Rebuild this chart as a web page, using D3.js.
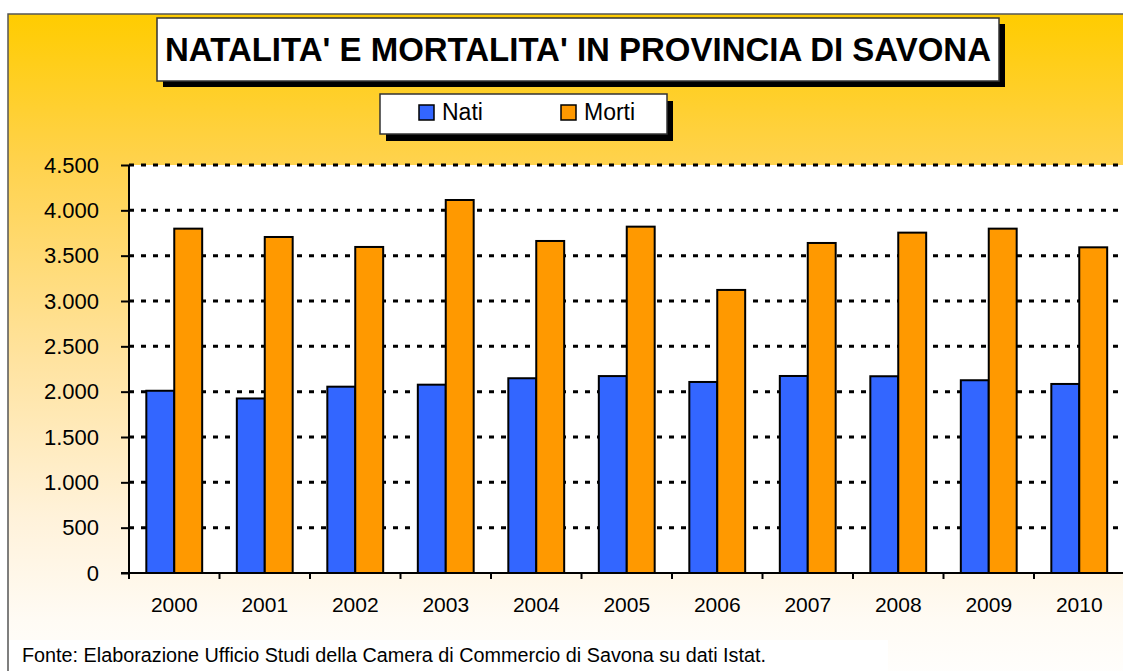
<!DOCTYPE html>
<html>
<head>
<meta charset="utf-8">
<script src="https://cdn.jsdelivr.net/npm/d3@7"></script>
<style>
  body { margin: 0; background: #fff; }
  svg { display: block; font-family: "Liberation Sans", Arial, sans-serif; }
</style>
</head>
<body>
<div id="chart"></div>
<script>
// data
var years = ["2000", "2001", "2002", "2003", "2004", "2005", "2006", "2007", "2008", "2009", "2010"];
var nati  = [2010, 1925, 2055, 2077, 2148, 2172, 2107, 2173, 2170, 2126, 2085];
var morti = [3798, 3706, 3596, 4114, 3662, 3820, 3122, 3640, 3754, 3798, 3592];
var seriesNames = ["Nati", "Morti"];
var seriesColors = ["#3366FF", "#FF9900"];
var yTicks = [0, 500, 1000, 1500, 2000, 2500, 3000, 3500, 4000, 4500];
var title = "NATALITA' E MORTALITA' IN PROVINCIA DI SAVONA";
var footer = "Fonte: Elaborazione Ufficio Studi della Camera di Commercio di Savona su dati Istat.";

var width = 1123,
    height = 671;
var plot = { left: 129, top: 165, right: 1124.5, bottom: 573 };

var svg = d3.select("#chart").append("svg")
    .attr("width", width)
    .attr("height", height);

// background gradient of the chart area
var grad = svg.append("defs").append("linearGradient")
    .attr("id", "bg")
    .attr("x1", 0).attr("y1", 0).attr("x2", 0).attr("y2", 1);
[[0, "#FFCC00"], [0.21, "#FFD24A"], [0.51, "#FFE3A0"], [0.74, "#FFF2DA"], [0.89, "#FFFBF4"], [1, "#FFFFFF"]]
    .forEach(function(s) {
        grad.append("stop").attr("offset", s[0]).attr("stop-color", s[1]);
    });

svg.append("rect")
    .attr("x", 8).attr("y", 14)
    .attr("width", 1200).attr("height", 680)
    .attr("fill", "url(#bg)")
    .attr("stroke", "#555")
    .attr("stroke-width", 1.5);

// white box behind the footer
svg.append("rect")
    .attr("x", 9).attr("y", 640)
    .attr("width", 879).attr("height", 40)
    .attr("fill", "#fff");

// plot area
svg.append("rect")
    .attr("x", plot.left).attr("y", plot.top)
    .attr("width", plot.right - plot.left).attr("height", plot.bottom - plot.top)
    .attr("fill", "#fff");

var y = d3.scaleLinear()
    .domain([0, 4500])
    .range([plot.bottom, plot.top]);

var x0 = d3.scaleBand()
    .domain(years)
    .range([plot.left, plot.right])
    .padding(0);

var x1 = d3.scaleBand()
    .domain(seriesNames)
    .range([0, x0.bandwidth()])
    .paddingInner(0)
    .paddingOuter(0.62);

// dotted gridlines
svg.append("g")
    .selectAll("line")
    .data(yTicks.filter(function(d) { return d > 0; }))
    .enter().append("line")
        .attr("x1", plot.left).attr("x2", width)
        .attr("y1", function(d) { return y(d); })
        .attr("y2", function(d) { return y(d); })
        .attr("stroke", "#000")
        .attr("stroke-width", 3)
        .attr("stroke-dasharray", "5,7");

// bars
var table = years.map(function(yr, i) {
    return { year: yr, values: [nati[i], morti[i]] };
});

var groups = svg.append("g")
    .selectAll("g")
    .data(table)
    .enter().append("g")
        .attr("transform", function(d) { return "translate(" + x0(d.year) + ",0)"; });

groups.selectAll("rect")
    .data(function(d) { return d.values.map(function(v, j) { return { key: seriesNames[j], value: v, color: seriesColors[j] }; }); })
    .enter().append("rect")
        .attr("x", function(d) { return x1(d.key); })
        .attr("y", function(d) { return y(d.value); })
        .attr("width", x1.bandwidth())
        .attr("height", function(d) { return plot.bottom - y(d.value); })
        .attr("fill", function(d) { return d.color; })
        .attr("stroke", "#000")
        .attr("stroke-width", 2);

// y axis
var yAxis = svg.append("g")
    .attr("transform", "translate(" + plot.left + ",0)")
    .call(d3.axisLeft(y).tickValues(yTicks).tickSize(8).tickPadding(22)
        .tickFormat(function(d) { return d3.format(",")(d).replace(/,/g, "."); }));
yAxis.select(".domain").attr("stroke-width", 2).attr("d", "M0," + plot.top + "V" + plot.bottom);
yAxis.selectAll(".tick line").attr("stroke-width", 2);
yAxis.selectAll("text")
    .attr("font-size", 22)
    .attr("fill", "#000")
    .attr("font-family", "'Liberation Sans', Arial, sans-serif");

// x axis: ticks at category boundaries
var xg = svg.append("g");
xg.append("line")
    .attr("x1", plot.left - 8).attr("x2", width)
    .attr("y1", plot.bottom).attr("y2", plot.bottom)
    .attr("stroke", "#000").attr("stroke-width", 2);
xg.selectAll(".xt")
    .data(years)
    .enter().append("line")
        .attr("class", "xt")
        .attr("x1", function(d) { return x0(d); })
        .attr("x2", function(d) { return x0(d); })
        .attr("y1", plot.bottom).attr("y2", plot.bottom + 6)
        .attr("stroke", "#000").attr("stroke-width", 2);
xg.selectAll("text")
    .data(years)
    .enter().append("text")
        .attr("x", function(d) { return x0(d) + x0.bandwidth() / 2; })
        .attr("y", 612)
        .attr("text-anchor", "middle")
        .attr("font-size", 21)
        .text(function(d) { return d; });

// title box with shadow
var tb = { x: 157, y: 18, w: 842, h: 63 };
svg.append("rect")
    .attr("x", tb.x + 6).attr("y", tb.y + 6)
    .attr("width", tb.w).attr("height", tb.h)
    .attr("fill", "#000");
svg.append("rect")
    .attr("x", tb.x).attr("y", tb.y)
    .attr("width", tb.w).attr("height", tb.h)
    .attr("fill", "#fff")
    .attr("stroke", "#333").attr("stroke-width", 1.5);
svg.append("text")
    .attr("x", tb.x + tb.w / 2)
    .attr("y", 61)
    .attr("text-anchor", "middle")
    .attr("font-size", 33)
    .attr("font-weight", "bold")
    .attr("textLength", 826)
    .attr("lengthAdjust", "spacingAndGlyphs")
    .text(title);

// legend box with shadow
var lb = { x: 380, y: 94, w: 287, h: 40 };
svg.append("rect")
    .attr("x", lb.x + 6).attr("y", lb.y + 7)
    .attr("width", lb.w).attr("height", lb.h)
    .attr("fill", "#000");
svg.append("rect")
    .attr("x", lb.x).attr("y", lb.y)
    .attr("width", lb.w).attr("height", lb.h)
    .attr("fill", "#fff")
    .attr("stroke", "#333").attr("stroke-width", 1.5);

var legendX = [419, 561];
var legend = svg.append("g")
    .selectAll("g")
    .data(seriesNames)
    .enter().append("g")
        .attr("transform", function(d, i) { return "translate(" + legendX[i] + ",105)"; });
legend.append("rect")
    .attr("width", 15).attr("height", 15)
    .attr("fill", function(d, i) { return seriesColors[i]; })
    .attr("stroke", "#000").attr("stroke-width", 1.5);
legend.append("text")
    .attr("x", 23).attr("y", 15)
    .attr("font-size", 23)
    .text(function(d) { return d; });

// source note
svg.append("text")
    .attr("x", 22).attr("y", 662)
    .attr("font-size", 20)
    .attr("textLength", 744)
    .attr("lengthAdjust", "spacingAndGlyphs")
    .text(footer);
</script>
</body>
</html>
